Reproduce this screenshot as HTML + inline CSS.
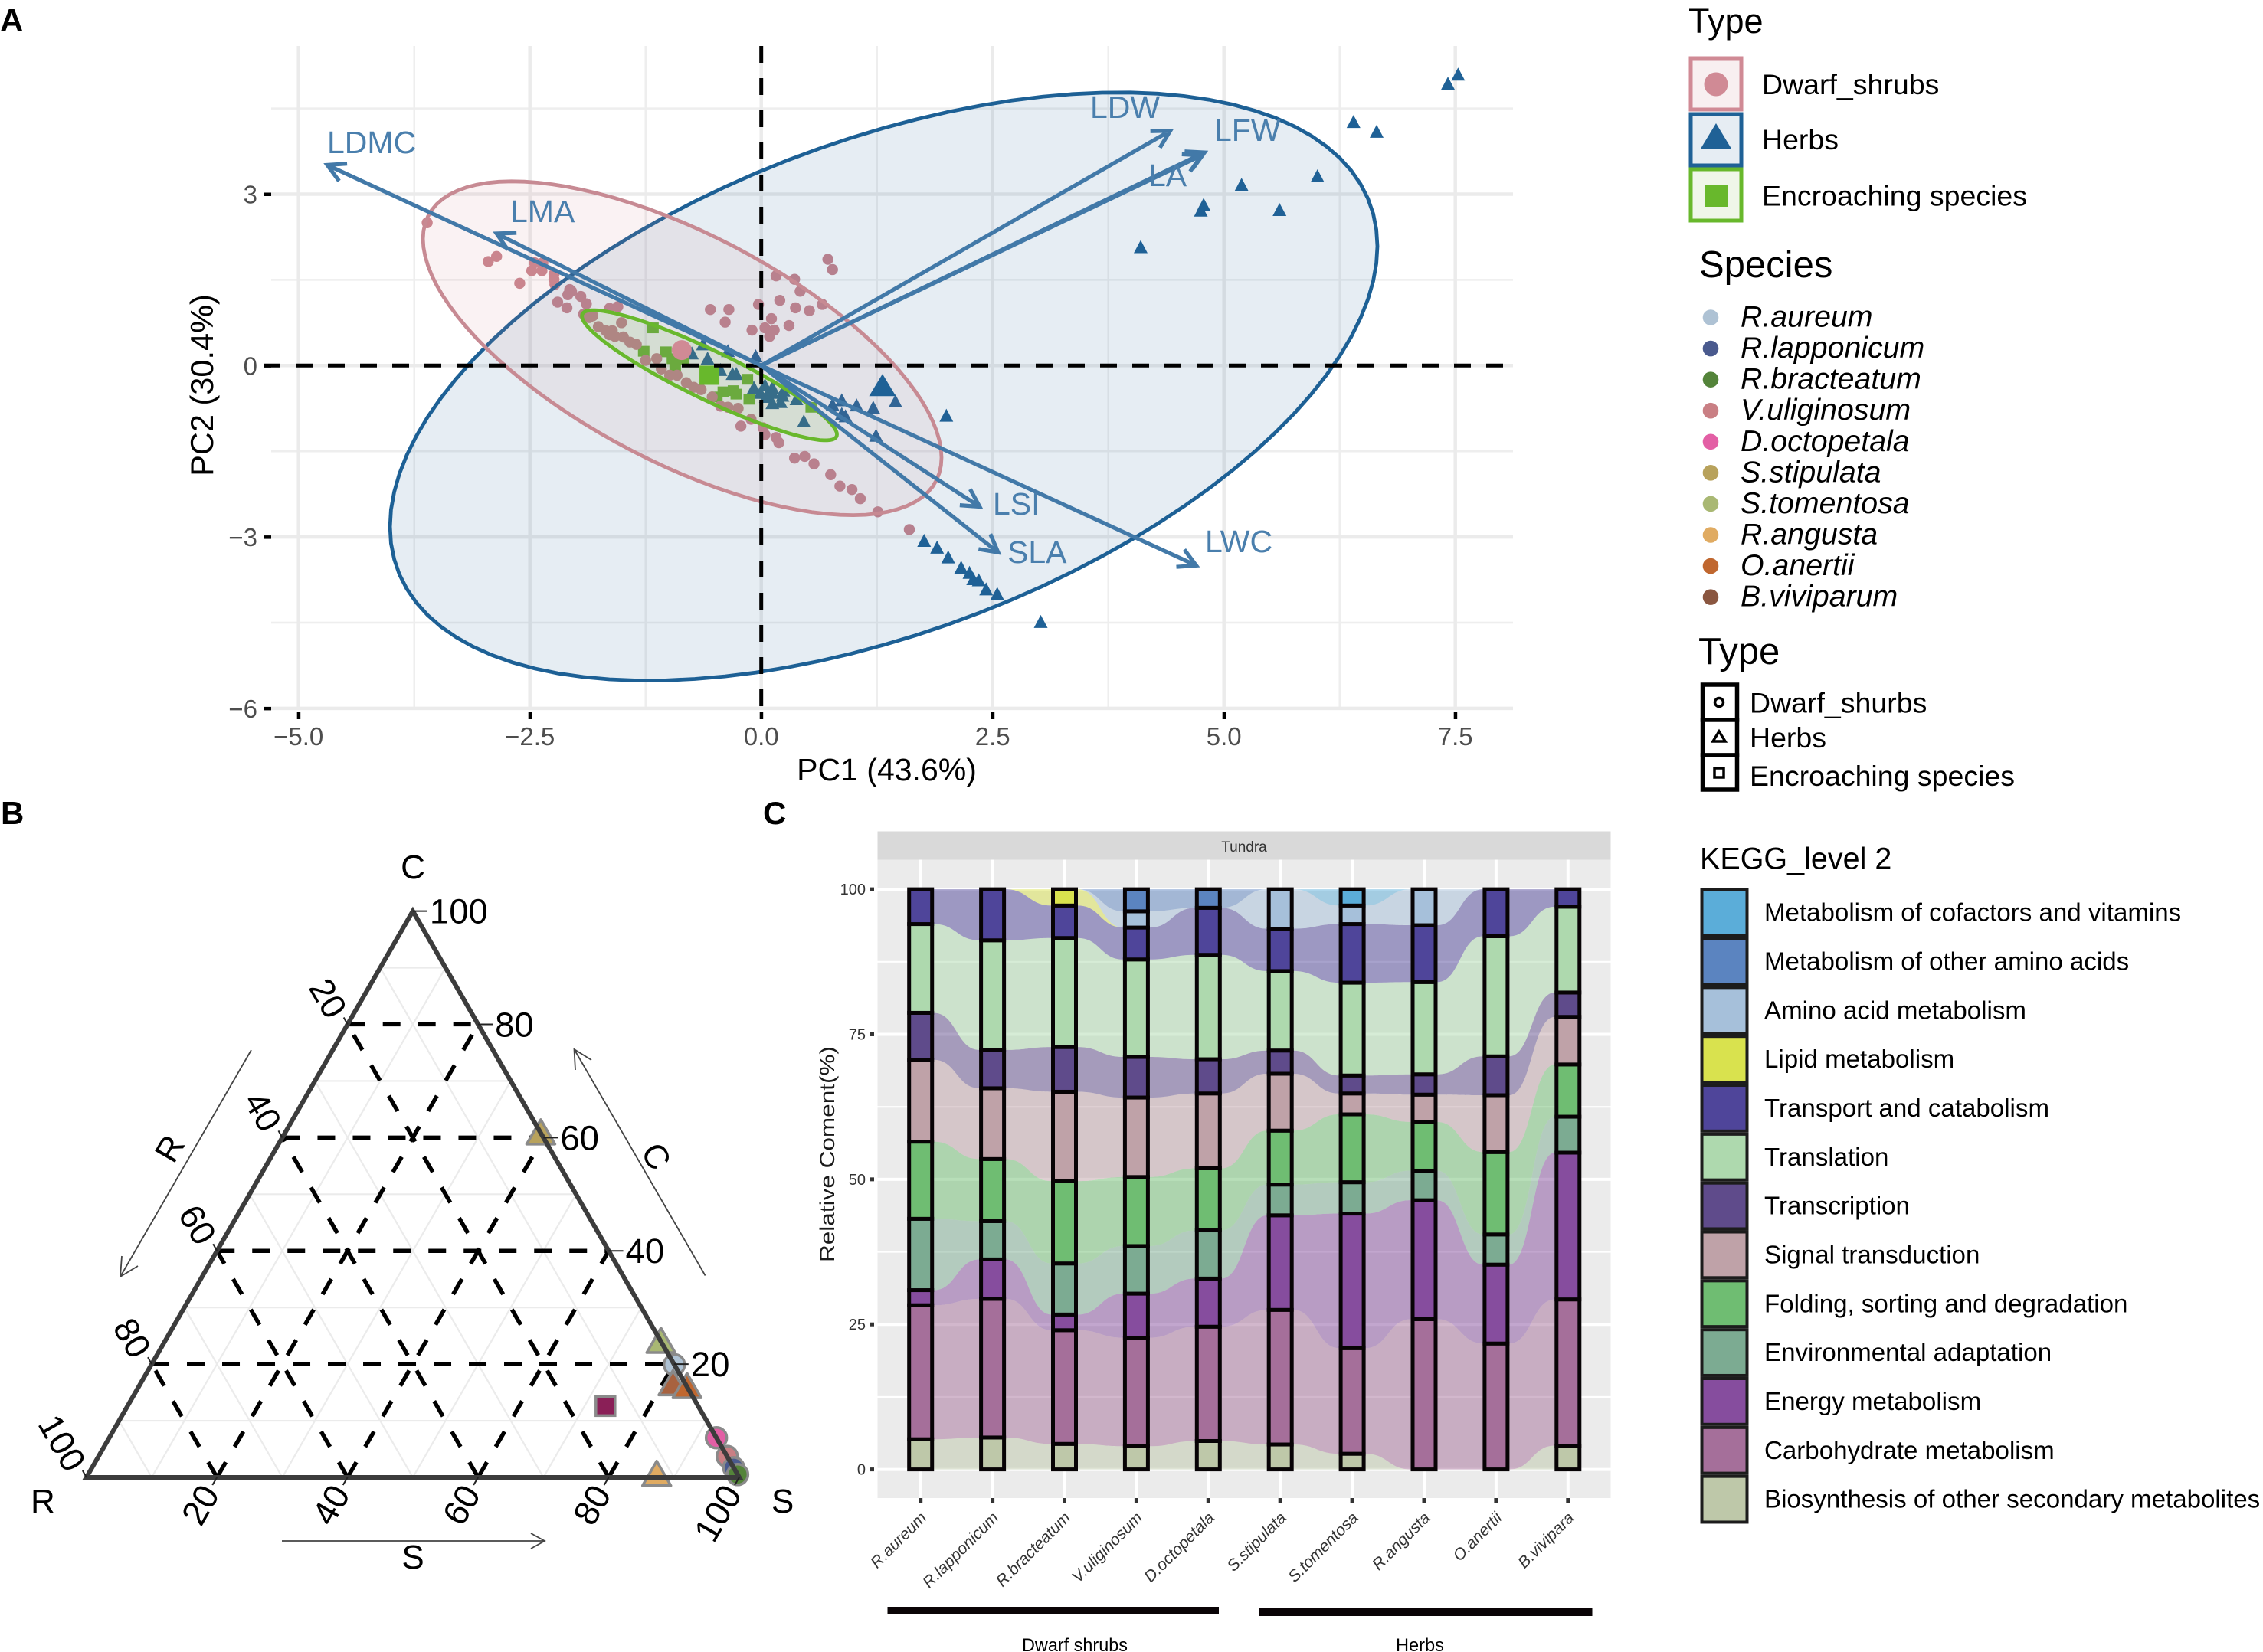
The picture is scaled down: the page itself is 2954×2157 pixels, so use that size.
<!DOCTYPE html>
<html lang="en">
<head>
<meta charset="utf-8">
<title>Leaf trait PCA, CSR ternary plot and KEGG composition</title>
<style>
html,body{margin:0;padding:0;background:#fff;}
svg{display:block;}
text{font-family:"Liberation Sans",sans-serif;}
</style>
</head>
<body>
<svg id="figure" xmlns="http://www.w3.org/2000/svg" width="2954" height="2157" viewBox="0 0 2954 2157">
<rect x="0" y="0" width="2954" height="2157" fill="#ffffff"/>

<!-- Panel letters -->
<text x="0" y="41" font-size="42" font-weight="bold" fill="#000">A</text>
<text x="1" y="1076" font-size="42" font-weight="bold" fill="#000">B</text>
<text x="996" y="1076" font-size="42" font-weight="bold" fill="#000">C</text>

<!-- PANEL A -->
<g id="a-panel">
  <g id="a-grid"></g>
  <g id="a-points"></g>
  <g id="a-ellipses"></g>
  <g id="a-centroids"></g>
  <g id="a-zero"></g>
  <g id="a-arrows"></g>
  <g id="a-axes"></g>
  <text x="427" y="200" font-size="41" fill="#4a7fad">LDMC</text>
  <text x="666" y="290" font-size="41" fill="#4a7fad">LMA</text>
  <text x="1423" y="154" font-size="41" fill="#4a7fad">LDW</text>
  <text x="1585" y="184" font-size="41" fill="#4a7fad">LFW</text>
  <text x="1499" y="243" font-size="41" fill="#4a7fad">LA</text>
  <text x="1296" y="672" font-size="41" fill="#4a7fad">LSI</text>
  <text x="1315" y="735" font-size="41" fill="#4a7fad">SLA</text>
  <text x="1573" y="721" font-size="41" fill="#4a7fad">LWC</text>
  <text x="1157.5" y="1019" font-size="41" fill="#000" text-anchor="middle">PC1 (43.6%)</text>
  <text transform="translate(278 503) rotate(-90)" font-size="41.5" fill="#000" text-anchor="middle">PC2 (30.4%)</text>
</g>

<!-- Legends for panel A -->
<g>
  <text x="2204" y="43" font-size="45" fill="#000">Type</text>
  <rect x="2207" y="76" width="66" height="67" fill="#f8eff0" stroke="#d08a95" stroke-width="5"/>
  <circle cx="2240" cy="110" r="15.5" fill="#d08a95"/>
  <text x="2300" y="123" font-size="37.5" fill="#000">Dwarf_shrubs</text>
  <rect x="2207" y="149" width="66" height="67" fill="#e6edf3" stroke="#1f6196" stroke-width="5"/>
  <path d="M2240 161L2260 194L2220 194Z" fill="#1f6196"/>
  <text x="2300" y="195" font-size="37.5" fill="#000">Herbs</text>
  <rect x="2207" y="221" width="66" height="67" fill="#eff6e9" stroke="#68b82c" stroke-width="5"/>
  <rect x="2225" y="241" width="30" height="29" fill="#68b82c"/>
  <text x="2300" y="268.5" font-size="37.5" fill="#000">Encroaching species</text>
</g>
<g id="species-legend">
  <text x="2218" y="362" font-size="49" fill="#000">Species</text>
</g>
<g>
  <text x="2217" y="867" font-size="49" fill="#000">Type</text>
  <rect x="2222.5" y="894" width="45" height="46" fill="#fff" stroke="#000" stroke-width="5.5"/>
  <rect x="2222.5" y="940" width="45" height="46" fill="#fff" stroke="#000" stroke-width="5.5"/>
  <rect x="2222.5" y="986" width="45" height="45" fill="#fff" stroke="#000" stroke-width="5.5"/>
  <circle cx="2244" cy="917" r="5.5" fill="none" stroke="#000" stroke-width="3.5"/>
  <path d="M2244 955L2252 968L2236 968Z" fill="none" stroke="#000" stroke-width="3.5"/>
  <rect x="2238" y="1003" width="12" height="12" fill="none" stroke="#000" stroke-width="3.5"/>
  <text x="2284" y="930.5" font-size="37.5" fill="#000">Dwarf_shurbs</text>
  <text x="2284" y="976" font-size="37.5" fill="#000">Herbs</text>
  <text x="2284" y="1026" font-size="37.5" fill="#000">Encroaching species</text>
</g>

<!-- PANEL B -->
<g id="b-panel">
  <g id="b-grid"></g>
  <g id="b-dash"></g>
  <g id="b-points"></g>
  <g id="b-frame"></g>
  <g id="b-labels"></g>
  <text x="539" y="1147" font-size="44" fill="#000" text-anchor="middle">C</text>
  <text x="40" y="1975" font-size="44" fill="#000">R</text>
  <text x="1007" y="1975" font-size="44" fill="#000">S</text>
  <path d="M328 1371L157 1667M159 1640L157 1667L180 1653" fill="none" stroke="#444" stroke-width="1.8"/>
  <path d="M920.6 1665.5L749.5 1370M751 1397L749.5 1370L772 1384" fill="none" stroke="#444" stroke-width="1.8"/>
  <path d="M368 2012L711 2012M693 2002L711 2012L693 2022" fill="none" stroke="#444" stroke-width="1.8"/>
  <text transform="translate(222 1500) rotate(-60)" font-size="44" fill="#000" text-anchor="middle" dominant-baseline="central">R</text>
  <text transform="translate(856 1510) rotate(60)" font-size="44" fill="#000" text-anchor="middle" dominant-baseline="central">C</text>
  <text x="539" y="2048" font-size="44" fill="#000" text-anchor="middle">S</text>
</g>

<!-- PANEL C -->
<g id="c-panel">
  <rect x="1145.5" y="1085.5" width="957" height="37" fill="#d9d9d9"/>
  <text x="1624" y="1112" font-size="19" fill="#333" text-anchor="middle">Tundra</text>
  <rect x="1145.5" y="1122.5" width="957" height="833.5" fill="#ebebeb"/>
  <g id="c-grid"></g>
  <g id="c-ribbons"></g>
  <g id="c-bars"></g>
  <g id="c-axes"></g>
  <text transform="translate(1089 1507) rotate(-90)" font-size="27" fill="#1a1a1a" text-anchor="middle" textLength="282" lengthAdjust="spacingAndGlyphs">Relative Coment(%)</text>
  <rect x="1158.5" y="2098" width="432.5" height="10" fill="#0a0406"/>
  <rect x="1644" y="2100" width="434.5" height="10" fill="#0a0406"/>
  <text x="1403" y="2156" font-size="24" fill="#000" text-anchor="middle" textLength="138" lengthAdjust="spacingAndGlyphs">Dwarf shrubs</text>
  <text x="1853.5" y="2156" font-size="24" fill="#000" text-anchor="middle" textLength="63" lengthAdjust="spacingAndGlyphs">Herbs</text>
</g>
<g id="kegg-legend">
  <text x="2219" y="1134.5" font-size="39.5" fill="#000">KEGG_level 2</text>
</g>

<script>
/* ---------- Panel A data (PCA scores in axis units) ---------- */
const pcaXMajor = [-5, -2.5, 0, 2.5, 5, 7.5];
const pcaXMinor = [-3.75, -1.25, 1.25, 3.75, 6.25];
const pcaYMajor = [-6, -3, 0, 3];
const pcaYMinor = [-4.5, -1.5, 1.5, 4.5];
const pcaXTickLabels = ['\u22125.0', '\u22122.5', '0.0', '2.5', '5.0', '7.5'];
const pcaYTickLabels = ['\u22126', '\u22123', '0', '3'];

const dwarfPC1 = [-3.61,-2.95,-2.86,-2.61,-2.48,-2.45,-2.37,-2.36,-2.24,-2.24,-2.23,-2.07,-2.05,-2.09,-1.95,-1.89,-2.20,-2.10,-1.92,-1.82,-1.86,-1.64,-1.55,-1.51,-1.76,-1.68,-1.61,-1.64,-1.58,-1.49,-1.42,-1.35,-1.25,-1.13,-1.08,-0.99,-0.91,-0.81,-0.73,-0.65,-0.53,-0.44,-0.36,-0.25,-0.22,-0.11,0.02,0.04,0.16,0.19,0.36,0.47,0.57,0.75,0.85,0.98,1.07,1.26,1.60,-0.55,-0.35,-0.39,-0.03,0.16,0.36,0.42,0.72,0.77,0.20,0.37,0.52,0.66,0.11,0.30,-0.10,0.04,0.14,0.09];
const dwarfPC2 = [2.50,1.82,1.91,1.44,1.66,1.80,1.66,1.80,1.60,1.51,1.42,1.33,1.30,1.24,1.21,1.08,1.11,1.01,0.90,0.87,0.84,1.00,1.03,0.75,0.68,0.61,0.61,0.54,0.51,0.50,0.41,0.37,0.09,0.12,-0.06,-0.17,-0.17,-0.30,-0.38,-0.42,-0.55,-0.71,-0.73,-0.75,-1.06,-0.94,-1.09,-1.21,-1.26,-1.35,-1.62,-1.59,-1.72,-1.91,-2.11,-2.17,-2.33,-2.56,-2.87,0.98,0.98,0.76,1.07,1.57,1.51,1.30,1.86,1.68,1.14,1.01,0.96,1.07,0.82,0.70,0.62,0.66,0.62,0.51];

const herbPC1 = [7.53,7.42,6.40,6.65,6.01,5.19,5.60,4.78,4.75,4.10,2.00,1.45,1.21,1.03,0.87,0.77,0.91,0.87,1.24,0.46,1.76,1.90,2.02,2.16,2.25,2.29,2.35,2.43,2.55,3.02,-0.06,-0.58,-0.75,-0.63,-0.36,-0.31,-0.27,-0.44,-0.08,0.04,-0.01,0.12,0.05,0.12,0.21,0.23,0.38,0.24,0.12];
const herbPC2 = [5.09,4.93,4.26,4.09,3.31,3.16,2.72,2.81,2.71,2.07,-0.88,-0.63,-0.74,-0.70,-0.61,-0.69,-0.89,-0.85,-1.23,-0.98,-3.07,-3.19,-3.36,-3.54,-3.63,-3.74,-3.76,-3.92,-4.00,-4.49,0.16,0.12,0.21,0.37,0.25,-0.15,-0.15,-0.08,-0.39,-0.35,-0.48,-0.39,-0.55,-0.66,-0.64,-0.53,-0.59,-0.44,-0.48];

const encroachPC1 = [-1.17,-1.27,-1.03,-0.96,-0.84,-0.93,-0.15,-0.48,-0.41,-0.30,-0.27,-0.13,0.54];
const encroachPC2 = [0.66,0.25,0.24,0.12,0.10,-0.01,-0.24,-0.55,-0.46,-0.44,-0.50,-0.59,-0.73];

const centroidDwarf = [-0.86, 0.27];
const centroidHerb = [1.31, -0.36];
const centroidEncroach = [-0.56, -0.17];

/* ellipse order: dwarf, herbs, encroaching */
const ellipseNames = ['dwarf-shrubs', 'herbs', 'encroaching'];
const ellipseCx = [-0.854, 1.323, -0.56];
const ellipseCy = [0.303, -0.367, -0.17];
const ellipseRx = [2.802, 5.335, 1.378];
const ellipseRy = [2.921, 5.147, 1.139];
const ellipseCorr = [-0.655, 0.477, -0.91];

const traitNames = ['LDMC', 'LMA', 'LDW', 'LFW', 'LA', 'LSI', 'SLA', 'LWC'];
const traitPC1 = [-4.69, -2.86, 4.42, 4.79, 4.76, 2.36, 2.56, 4.70];
const traitPC2 = [3.51, 2.31, 4.11, 3.73, 3.68, -2.47, -3.27, -3.50];

/* ---------- Species legend ---------- */
const speciesNames = ['R.aureum','R.lapponicum','R.bracteatum','V.uliginosum','D.octopetala','S.stipulata','S.tomentosa','R.angusta','O.anertii','B.viviparum'];
const speciesColors = ['#aec2d4','#4a5a8e','#54843a','#c97f84','#e35fa5','#b8a25c','#a9b873','#e0ab62','#c0672f','#8a5640'];

/* ---------- Panel B data (ternary percentages) ---------- */
const ternaryLabels = ['S.stipulata','S.tomentosa','R.aureum','B.viviparum','O.anertii','R.angusta','D.octopetala','V.uliginosum','R.lapponicum','R.bracteatum','unlabelled-encroacher'];
const ternaryR = [0, 0, 0, 1.9, 0, 12.4, 0, 0, 0, 0, 14.2];
const ternaryS = [39.2, 76, 80.1, 81.6, 84, 87.1, 93, 96.3, 98.3, 99.5, 73.2];
const ternaryC = [60.8, 24, 19.9, 16.5, 16, 0.5, 7, 3.7, 1.7, 0.5, 12.6];
const ternaryShape = ['t','t','c','t','t','t','c','c','c','c','s'];
const ternaryColors = ['#b8a25c','#a9b873','#aec2d4','#a8623f','#c0672f','#e0ab62','#e35fa5','#c97f84','#4a5a8e','#54843a','#8a1f57'];
const ternaryMinorLevels = [10, 30, 50, 70, 90];
const ternaryMajorLevels = [20, 40, 60, 80];
const ternaryTickValues = [20, 40, 60, 80, 100];
const ternaryTickLabels = ['20', '40', '60', '80', '100'];

/* ---------- Panel C data (% per KEGG class per species) ---------- */
const stackSpecies = ['R.aureum','R.lapponicum','R.bracteatum','V.uliginosum','D.octopetala','S.stipulata','S.tomentosa','R.angusta','O.anertii','B.vivipara'];
const stackYTicks = [0, 25, 50, 75, 100];
const stackYMinor = [12.5, 37.5, 62.5, 87.5];
const stackYTickLabels = ['0', '25', '50', '75', '100'];
const biosynthesis = [5.2, 5.5, 4.4, 4.0, 4.9, 4.3, 2.7, 0, 0, 4.1];
const carbohydrate = [23.1, 23.9, 19.6, 18.7, 19.7, 23.2, 18.2, 25.9, 21.7, 25.2];
const energy = [2.6, 6.8, 2.7, 7.6, 8.3, 16.3, 23.2, 20.5, 13.6, 25.3];
const environmental = [12.3, 6.6, 8.8, 8.2, 8.3, 5.3, 5.4, 5.1, 5.2, 6.2];
const folding = [13.3, 10.7, 14.2, 11.9, 10.7, 9.3, 11.7, 8.4, 14.2, 9.0];
const signal = [14.1, 12.2, 15.4, 13.7, 12.9, 9.8, 3.6, 4.7, 9.8, 8.2];
const transcription = [8.1, 6.6, 7.7, 7.0, 5.9, 4.0, 3.1, 3.5, 6.7, 4.2];
const translation = [15.3, 18.9, 18.8, 16.8, 18.0, 13.7, 16.0, 15.9, 20.7, 14.8];
const transport = [6.0, 8.8, 5.6, 5.5, 8.1, 7.3, 10.1, 9.8, 8.1, 3.0];
const lipid = [0, 0, 2.8, 0, 0, 0, 0, 0, 0, 0];
const aminoAcid = [0, 0, 0, 2.8, 0, 6.8, 3.2, 6.2, 0, 0];
const otherAmino = [0, 0, 0, 3.8, 3.2, 0, 0, 0, 0, 0];
const cofactors = [0, 0, 0, 0, 0, 0, 2.8, 0, 0, 0];
const stackSeries = [biosynthesis, carbohydrate, energy, environmental, folding, signal, transcription, translation, transport, lipid, aminoAcid, otherAmino, cofactors];
const stackSeriesColors = ['#bec8a9','#a56f9a','#864d9e','#7cab92','#6fbd72','#bfa2a8','#5f4b8b','#aed9ae','#4f459a','#d9e24e','#a6c0da','#5b84c0','#5badd9'];
const keggNames = ['Metabolism of cofactors and vitamins','Metabolism of other amino acids','Amino acid metabolism','Lipid metabolism','Transport and catabolism','Translation','Transcription','Signal transduction','Folding, sorting and degradation','Environmental adaptation','Energy metabolism','Carbohydrate metabolism','Biosynthesis of other secondary metabolites'];
const keggColors = ['#5badd9','#5b84c0','#a6c0da','#d9e24e','#4f459a','#aed9ae','#5f4b8b','#bfa2a8','#6fbd72','#7cab92','#864d9e','#a56f9a','#bec8a9'];

/* ---------- helpers ---------- */
const NS = 'http://www.w3.org/2000/svg';
function add(parent, tag, attrs, text) {
  const el = document.createElementNS(NS, tag);
  for (const k in attrs) el.setAttribute(k, attrs[k]);
  if (text !== undefined) el.textContent = text;
  parent.appendChild(el);
  return el;
}
const $ = id => document.getElementById(id);

/* ---------- Panel A scales ---------- */
const pcaX = v => 993.7 + 120.8 * v;
const pcaY = v => 477.3 - 74.6 * v;
const pLeft = 354, pRight = 1975, pTop = 60, pBottom = 925.5;

pcaXMinor.forEach(v => {
  const l = add($('a-grid'), 'line', {x1: pcaX(v), x2: pcaX(v), y1: pTop, y2: pBottom, stroke: '#eeeeee', 'stroke-width': 2.5});
  
  
});
pcaYMinor.forEach(v => {
  const l = add($('a-grid'), 'line', {x1: pLeft, x2: pRight, y1: pcaY(v), y2: pcaY(v), stroke: '#eeeeee', 'stroke-width': 2.5});
  
  
});
pcaXMajor.forEach((v, i) => {
  const l = add($('a-grid'), 'line', {x1: pcaX(v), x2: pcaX(v), y1: pTop, y2: pBottom, stroke: '#ebebeb', 'stroke-width': 4.5});
  
  
  const t = add($('a-axes'), 'rect', {x: pcaX(v) - 2, y: 929, width: 4.5, height: 10, fill: '#000'});
  
  
  const s = add($('a-axes'), 'text', {x: pcaX(v), y: 973, 'font-size': 33, fill: '#4d4d4d', 'text-anchor': 'middle'}, pcaXTickLabels[i]);
  
  
});
pcaYMajor.forEach((v, i) => {
  const l = add($('a-grid'), 'line', {x1: pLeft, x2: pRight, y1: pcaY(v), y2: pcaY(v), stroke: '#ebebeb', 'stroke-width': 4.5});
  
  
  const t = add($('a-axes'), 'rect', {x: 344, y: pcaY(v) - 2, width: 10, height: 4.5, fill: '#000'});
  
  
  const s = add($('a-axes'), 'text', {x: 336, y: pcaY(v) + 12, 'font-size': 33, fill: '#4d4d4d', 'text-anchor': 'end'}, pcaYTickLabels[i]);
  
  
});

function triPath(cx, cy, w, h) {
  return 'M' + cx + ' ' + (cy - h * 0.55) + 'L' + (cx + w / 2) + ' ' + (cy + h * 0.45) + 'L' + (cx - w / 2) + ' ' + (cy + h * 0.45) + 'Z';
}

herbPC1.forEach((v, i) => {
  const m = add($('a-points'), 'path', {d: triPath(pcaX(v), pcaY(herbPC2[i]), 18, 17), fill: '#1f6196'});
  
  
});
encroachPC1.forEach((v, i) => {
  const m = add($('a-points'), 'rect', {x: pcaX(v) - 7.5, y: pcaY(encroachPC2[i]) - 7, width: 15, height: 14, fill: '#68b82c'});
  
  
});
dwarfPC1.forEach((v, i) => {
  const m = add($('a-points'), 'circle', {cx: pcaX(v), cy: pcaY(dwarfPC2[i]), r: 7.2, fill: '#c9858e'});
  
  
});

const ellipseStroke = ['#c78a93', '#1d6095', '#68b82c'];
const ellipseFill = ['#d08a95', '#1f6196', '#68b82c'];
const ellipseAlpha = [0.11, 0.115, 0.11];
[1, 0, 2].forEach(k => {
  const d0 = Math.acos(ellipseCorr[k]);
  let d = '';
  for (let a = 0; a < 96; a++) {
    const t = a / 96 * 2 * Math.PI;
    const px = pcaX(ellipseCx[k] + ellipseRx[k] * Math.cos(t));
    const py = pcaY(ellipseCy[k] + ellipseRy[k] * Math.cos(t - d0));
    d += (a ? 'L' : 'M') + px.toFixed(1) + ' ' + py.toFixed(1);
  }
  const e = add($('a-ellipses'), 'path', {d: d + 'Z', fill: ellipseFill[k], 'fill-opacity': ellipseAlpha[k], stroke: ellipseStroke[k], 'stroke-width': 4.8});
  
  
});

const c1 = add($('a-centroids'), 'circle', {cx: pcaX(centroidDwarf[0]), cy: pcaY(centroidDwarf[1]), r: 13, fill: '#d08a95'});


const c2 = add($('a-centroids'), 'path', {d: triPath(pcaX(centroidHerb[0]), pcaY(centroidHerb[1]), 35, 29), fill: '#1f6196'});


const c3 = add($('a-centroids'), 'rect', {x: pcaX(centroidEncroach[0]) - 13, y: pcaY(centroidEncroach[1]) - 12.5, width: 26, height: 25, fill: '#68b82c'});



const z1 = add($('a-zero'), 'line', {x1: 344, x2: pRight, y1: pcaY(0), y2: pcaY(0), stroke: '#000', 'stroke-width': 5, 'stroke-dasharray': '22 20'});


const z2 = add($('a-zero'), 'line', {x1: pcaX(0), x2: pcaX(0), y1: pTop, y2: pBottom + 14, stroke: '#000', 'stroke-width': 5, 'stroke-dasharray': '22 20'});



traitNames.forEach((n, i) => {
  const x0 = pcaX(0), y0 = pcaY(0), x1 = pcaX(traitPC1[i]), y1 = pcaY(traitPC2[i]);
  const ang = Math.atan2(y1 - y0, x1 - x0);
  const hl = 26, spread = 0.5;
  const hx1 = x1 - hl * Math.cos(ang - spread), hy1 = y1 - hl * Math.sin(ang - spread);
  const hx2 = x1 - hl * Math.cos(ang + spread), hy2 = y1 - hl * Math.sin(ang + spread);
  const d = 'M' + x0 + ' ' + y0 + 'L' + x1 + ' ' + y1 + 'M' + hx1 + ' ' + hy1 + 'L' + x1 + ' ' + y1 + 'L' + hx2 + ' ' + hy2;
  const a = add($('a-arrows'), 'path', {d: d, fill: 'none', stroke: '#4279a8', 'stroke-width': 5.2});
  
  
});

/* ---------- Species legend ---------- */
speciesNames.forEach((n, i) => {
  const y = 414.5 + 40.57 * i;
  const d = add($('species-legend'), 'circle', {cx: 2233, cy: y, r: 10.3, fill: speciesColors[i]});
  
  
  const t = add($('species-legend'), 'text', {x: 2272, y: y + 12, 'font-size': 39.3, 'font-style': 'italic', fill: '#000'}, n);
  
  
});

/* ---------- Panel B ---------- */
const triLeft = 112.8, triWidth = 852.2, triBase = 1929, triHeight = 739.4;
const terX = (r, s, c) => triLeft + (s + c / 2) / 100 * triWidth;
const terY = (r, s, c) => triBase - c / 100 * triHeight;

function ternaryLines(level, parent, attrs, name) {
  const v = level, o = 100 - level;
  const segs = [
    [[o, 0, v], [0, o, v]],
    [[v, o, 0], [v, 0, o]],
    [[o, v, 0], [0, v, o]]
  ];
  segs.forEach(sg => {
    const a = Object.assign({x1: terX(...sg[0]), y1: terY(...sg[0]), x2: terX(...sg[1]), y2: terY(...sg[1])}, attrs);
    const l = add(parent, 'line', a);
    
    
  });
}
ternaryMinorLevels.forEach(v => ternaryLines(v, $('b-grid'), {stroke: '#ebebeb', 'stroke-width': 2.2}, 'ternary-minor-gridline'));
ternaryMajorLevels.forEach(v => ternaryLines(v, $('b-dash'), {stroke: '#000', 'stroke-width': 5.4, 'stroke-dasharray': '23 23'}, 'ternary-major-gridline'));

ternaryS.forEach((s, i) => {
  const x = terX(ternaryR[i], s, ternaryC[i]), y = terY(ternaryR[i], s, ternaryC[i]);
  let m;
  const st = {fill: ternaryColors[i], stroke: '#8a8a8a', 'stroke-width': 3.5};
  if (ternaryShape[i] === 'c') {
    m = add($('b-points'), 'circle', Object.assign({cx: x, cy: y, r: 13.5}, st));
  } else if (ternaryShape[i] === 't') {
    m = add($('b-points'), 'path', Object.assign({d: triPath(x, y, 37, 32), 'stroke-linejoin': 'round'}, st));
  } else {
    m = add($('b-points'), 'rect', Object.assign({x: x - 12.5, y: y - 12.5, width: 25, height: 25}, st));
  }
  
  
});

const fr = add($('b-frame'), 'path', {
  d: 'M' + terX(100, 0, 0) + ' ' + terY(100, 0, 0) + 'L' + terX(0, 100, 0) + ' ' + terY(0, 100, 0) + 'L' + terX(0, 0, 100) + ' ' + terY(0, 0, 100) + 'Z',
  fill: 'none', stroke: '#3c3c3c', 'stroke-width': 6, 'stroke-linejoin': 'miter'
});



ternaryTickValues.forEach((v, i) => {
  const rx = terX(0, 100 - v, v), ry = terY(0, 100 - v, v);
  const tk = add($('b-frame'), 'line', {x1: rx, y1: ry, x2: rx + 19, y2: ry, stroke: '#222', 'stroke-width': 2});
  
  
  const t1 = add($('b-labels'), 'text', {x: rx + 22, y: ry + 16, 'font-size': 45.5, fill: '#000'}, ternaryTickLabels[i]);
  
  

  const lx = terX(v, 0, 100 - v), ly = terY(v, 0, 100 - v);
  const tk2 = add($('b-frame'), 'line', {x1: lx, y1: ly, x2: lx - 5, y2: ly - 9, stroke: '#222', 'stroke-width': 2});
  
  
  const px = lx - 13, py = ly - 12;
  const t2 = add($('b-labels'), 'text', {x: px, y: py, 'font-size': 45.5, fill: '#000', 'text-anchor': 'end', 'dominant-baseline': 'central', transform: 'rotate(60 ' + px + ' ' + py + ')'}, ternaryTickLabels[i]);
  
  

  const bx = terX(100 - v, v, 0), by = terY(100 - v, v, 0);
  const tk3 = add($('b-frame'), 'line', {x1: bx, y1: by, x2: bx - 6, y2: by + 10, stroke: '#222', 'stroke-width': 2});
  
  
  const qx = bx - 9, qy = by + 14;
  const t3 = add($('b-labels'), 'text', {x: qx, y: qy, 'font-size': 45.5, fill: '#000', 'text-anchor': 'end', 'dominant-baseline': 'central', transform: 'rotate(-60 ' + qx + ' ' + qy + ')'}, ternaryTickLabels[i]);
  
  
});

/* ---------- Panel C ---------- */
const stackX = i => 1201.7 + 93.9 * i;
const stackY = v => 1918.6 - 7.575 * v;
const cTop = 1122.5, cBottom = 1956, cLeft = 1145.5, cRight = 2102.5;
const barHalf = 15;

stackYMinor.forEach(v => {
  const l = add($('c-grid'), 'line', {x1: cLeft, x2: cRight, y1: stackY(v), y2: stackY(v), stroke: '#ffffff', 'stroke-width': 2.2});
  
  
});
stackYTicks.forEach((v, i) => {
  const l = add($('c-grid'), 'line', {x1: cLeft, x2: cRight, y1: stackY(v), y2: stackY(v), stroke: '#ffffff', 'stroke-width': 4});
  
  
  const t = add($('c-axes'), 'rect', {x: 1135, y: stackY(v) - 2.5, width: 6, height: 5, fill: '#333'});
  
  
  const s = add($('c-axes'), 'text', {x: 1130, y: stackY(v) + 7, 'font-size': 20, fill: '#333', 'text-anchor': 'end'}, stackYTickLabels[i]);
  
  
});
stackSpecies.forEach((n, i) => {
  const x = stackX(i);
  const l = add($('c-grid'), 'line', {x1: x, x2: x, y1: cTop, y2: cBottom, stroke: '#ffffff', 'stroke-width': 4});
  
  
  const t = add($('c-axes'), 'rect', {x: x - 2.5, y: 1956, width: 5, height: 7, fill: '#333'});
  
  
  const ax = x + 9, ay = 1983;
  const s = add($('c-axes'), 'text', {x: ax, y: ay, 'font-size': 21.2, 'font-style': 'italic', fill: '#333', 'text-anchor': 'end', transform: 'rotate(-45 ' + ax + ' ' + ay + ')'}, n);
  
  
});

/* cumulative stacks per species */
const stackBase = stackSpecies.map((n, i) => {
  let run = 0;
  return stackSeries.map(series => { const b = run; run += series[i]; return b; });
});

stackSeries.forEach((series, k) => {
  for (let i = 0; i < stackSpecies.length - 1; i++) {
    if (series[i] === 0 && series[i + 1] === 0) continue;
    const x0 = stackX(i) + barHalf + 2, x1 = stackX(i + 1) - barHalf - 2, xm = (x0 + x1) / 2;
    const b0 = stackY(stackBase[i][k]), t0 = stackY(stackBase[i][k] + series[i]);
    const b1 = stackY(stackBase[i + 1][k]), t1 = stackY(stackBase[i + 1][k] + series[i + 1]);
    const d = 'M' + x0 + ' ' + t0 + 'C' + xm + ' ' + t0 + ' ' + xm + ' ' + t1 + ' ' + x1 + ' ' + t1 +
      'L' + x1 + ' ' + b1 + 'C' + xm + ' ' + b1 + ' ' + xm + ' ' + b0 + ' ' + x0 + ' ' + b0 + 'Z';
    const r = add($('c-ribbons'), 'path', {d: d, fill: stackSeriesColors[k], 'fill-opacity': 0.5});
    
    
  }
});
stackSeries.forEach((series, k) => {
  series.forEach((v, i) => {
    if (v === 0) return;
    const yTop = stackY(stackBase[i][k] + v), yBot = stackY(stackBase[i][k]);
    const r = add($('c-bars'), 'rect', {x: stackX(i) - barHalf, y: yTop, width: 2 * barHalf, height: yBot - yTop, fill: stackSeriesColors[k], stroke: '#070305', 'stroke-width': 5});
    
    
  });
});

keggNames.forEach((n, i) => {
  const y = 1159.7 + 63.83 * i;
  const r = add($('kegg-legend'), 'rect', {x: 2221.5, y: y + 2, width: 59, height: 59.8, fill: keggColors[i], stroke: '#1c1c1c', 'stroke-width': 4});
  
  
  const t = add($('kegg-legend'), 'text', {x: 2303, y: y + 43, 'font-size': 33.1, fill: '#000'}, n);
  
  
});
</script>
</svg>
</body>
</html>
